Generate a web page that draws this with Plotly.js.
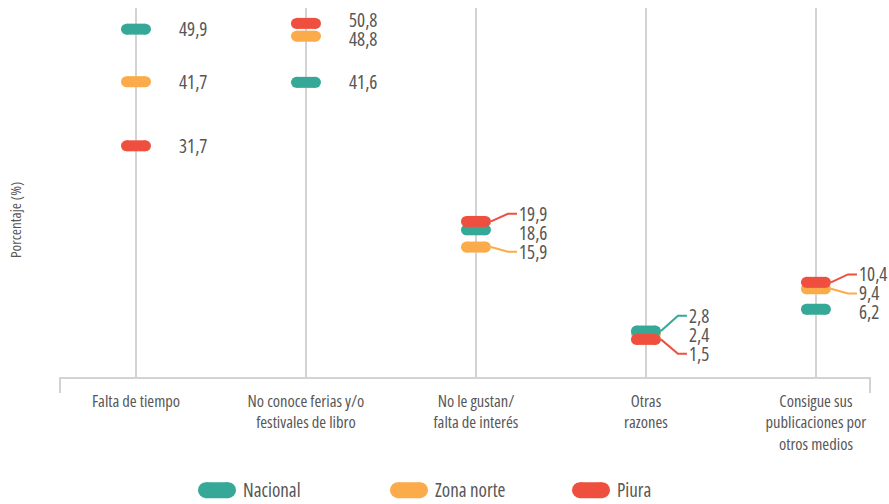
<!DOCTYPE html>
<html>
<head>
<meta charset="utf-8">
<script src="https://cdn.plot.ly/plotly-3.0.1.min.js"></script>
<style>
  html, body { margin: 0; padding: 0; background: #fff; }
  #chart { width: 889px; height: 504px; }
  /* condensed cut of Open Sans, close to the original typeface;
     global so plotly's text measuring node gets it too */
  text, tspan { font-stretch: 75%; }
</style>
</head>
<body>
<div id="chart"></div>
<script>
// categories and values (percent)
const categories = [
    "Falta de tiempo",
    "No conoce ferias y/o<br>festivales de libro",
    "No le gustan/<br>falta de interés",
    "Otras<br>razones",
    "Consigue sus<br>publicaciones por<br>otros medios"
];
const nacional  = [49.9, 41.6, 18.6, 2.8, 6.2];
const zonaNorte = [41.7, 48.8, 15.9, 2.4, 9.4];
const piura     = [31.7, 50.8, 19.9, 1.5, 10.4];

const seriesNames = ["Nacional", "Zona norte", "Piura"];
const seriesColors = ["#36a897", "#fbab4a", "#ef4f3e"];

document.addEventListener("DOMContentLoaded", () => {
    const FONT = "Open Sans, sans-serif";
    const TEXT = "#575757";
    const GRID = "#d3d3d3";

    const Y_RANGE = [-4.37, 53.2];
    const X_RANGE = [-0.447, 4.318];
    const PLOT_W = 810, PLOT_H = 369;
    const yPx = PLOT_H / (Y_RANGE[1] - Y_RANGE[0]);
    const xPx = PLOT_W / (X_RANGE[1] - X_RANGE[0]);
    const half = 9.5 / xPx;

    const series = [
        {name: seriesNames[0], values: nacional, color: seriesColors[0]},
        {name: seriesNames[1], values: zonaNorte, color: seriesColors[1]},
        {name: seriesNames[2], values: piura, color: seriesColors[2]},
    ];

    function pillTrace(s) {
        const x = [], y = [];
        s.values.forEach((v, i) => {
            x.push(i - half, i + half, null);
            y.push(v, v, null);
        });
        return {
            x, y, name: s.name, type: "scatter", mode: "lines+markers",
            line: {color: s.color, width: 11},
            marker: {color: s.color, size: 11},
            hoverinfo: "skip", showlegend: false, xaxis: "x", yaxis: "y",
        };
    }

    // zona norte under nacional, piura on top
    const traces = [series[1], series[0], series[2]].map(pillTrace);

    // value labels, pushed apart where they collide
    const annotations = [];
    const shapes = [];
    const fmt = v => v.toFixed(1).replace(".", ",");

    categories.forEach((c, i) => {
        const items = series.map(s => {
            const py = (Y_RANGE[1] - s.values[i]) * yPx;
            return {v: s.values[i], color: s.color, py, ly: py};
        }).sort((a, b) => a.py - b.py);

        for (let it = 0; it < 100; it++) {
            for (let k = 0; k < items.length - 1; k++) {
                const gap = items[k + 1].ly - items[k].ly;
                if (gap < 19) {
                    const d = (19 - gap) / 2;
                    items[k].ly -= d;
                    items[k + 1].ly += d;
                }
            }
        }

        items.forEach(d => {
            const off = d.ly - d.py;
            annotations.push({
                x: i, y: d.v, xref: "x", yref: "y", text: fmt(d.v), showarrow: false,
                xanchor: "left", yanchor: "middle", xshift: 41, yshift: -off,
                font: {family: FONT, size: 19, color: TEXT},
            });
            if (Math.abs(off) > 4.5) {
                const x0 = i + 15 / xPx, x1 = i + 32 / xPx, x2 = i + 41 / xPx;
                const y1 = d.v - off / yPx;
                shapes.push({
                    type: "path", xref: "x", yref: "y",
                    path: `M${x0},${d.v} L${x1},${y1} L${x2},${y1}`,
                    line: {color: d.color, width: 2},
                });
            }
        });
    });

    // end ticks of the category axis
    [0, 1].forEach(xd => shapes.push({
        type: "line", xref: "x domain", yref: "y domain",
        x0: xd, x1: xd, y0: 0, y1: -16 / PLOT_H,
        line: {color: GRID, width: 2},
    }));

    // legend drawn on its own hidden axes
    const legendX = [217, 409, 591];
    series.forEach((s, k) => {
        traces.push({
            x: [legendX[k] - 11, legendX[k] + 11], y: [0.5, 0.5],
            type: "scatter", mode: "lines+markers",
            line: {color: s.color, width: 16},
            marker: {color: s.color, size: 16},
            hoverinfo: "skip", showlegend: false, xaxis: "x2", yaxis: "y2",
        });
        annotations.push({
            x: legendX[k] + 24, y: 0.5, xref: "x2", yref: "y2", text: s.name,
            showarrow: false, xanchor: "left", yanchor: "middle",
            font: {family: FONT, size: 19, color: TEXT},
        });
    });

    annotations.push({
        x: -45 / PLOT_W, y: (500 - 220) / 492, xref: "paper", yref: "paper",
        text: "Porcentaje (%)", textangle: -90, showarrow: false,
        xanchor: "center", yanchor: "middle",
        font: {family: FONT, size: 15, color: TEXT},
    });

    const layout = {
        width: 889, height: 504,
        margin: {l: 60, r: 19, t: 8, b: 4},
        paper_bgcolor: "#fff", plot_bgcolor: "#fff",
        showlegend: false,
        xaxis: {
            range: X_RANGE, domain: [0, 1], anchor: "y",
            tickvals: categories.map((c, i) => i), ticktext: categories,
            tickfont: {family: FONT, size: 16.5, color: TEXT},
            ticks: "", ticklabelstandoff: 8,
            showgrid: true, gridcolor: GRID, gridwidth: 2.5,
            showline: true, linecolor: GRID, linewidth: 2,
            zeroline: false, fixedrange: true,
        },
        yaxis: {
            range: Y_RANGE, domain: [0.25, 1], anchor: "x",
            visible: false, fixedrange: true,
        },
        xaxis2: {range: [60, 870], domain: [0, 1], anchor: "y2", visible: false},
        yaxis2: {range: [0, 1], domain: [0, 0.04], anchor: "x2", visible: false},
        annotations, shapes,
    };

    Plotly.newPlot("chart", traces, layout, {displayModeBar: false, staticPlot: true});
});
</script>
</body>
</html>
